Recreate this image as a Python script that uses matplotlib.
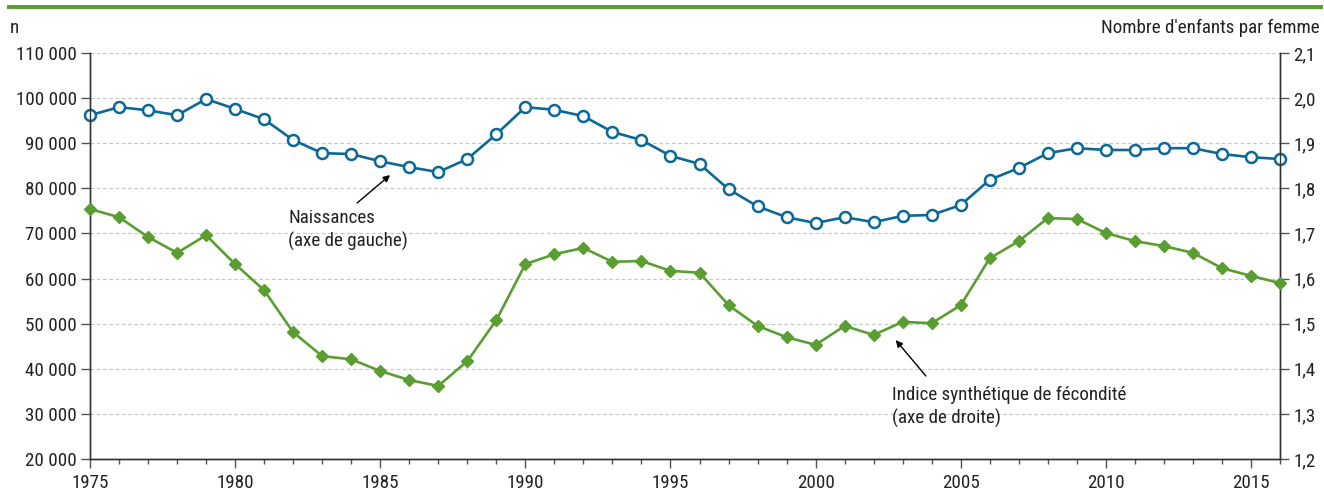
import numpy as np
import matplotlib.pyplot as plt
from matplotlib.ticker import FuncFormatter, MultipleLocator

plt.rcParams['font.family'] = ['Roboto Condensed', 'DejaVu Sans']

annees = list(range(1975, 2017))

# Naissances (axe de gauche)
naissances = [96200, 98000, 97300, 96200, 99800, 97600, 95300, 90700, 87800, 87600,
              86000, 84700, 83600, 86500, 92000, 98000, 97400, 96000, 92500, 90700,
              87200, 85400, 79800, 76000, 73600, 72300, 73600, 72500, 73900, 74100,
              76300, 81900, 84500, 87800, 88900, 88500, 88500, 88900, 88900, 87600,
              86900, 86500]

# Indice synthétique de fécondité (axe de droite)
isf = [1.754, 1.736, 1.692, 1.657, 1.696, 1.632, 1.574, 1.481, 1.428, 1.421,
       1.395, 1.375, 1.362, 1.417, 1.508, 1.632, 1.654, 1.668, 1.637, 1.639,
       1.617, 1.613, 1.541, 1.495, 1.470, 1.453, 1.495, 1.475, 1.504, 1.501,
       1.541, 1.645, 1.683, 1.734, 1.732, 1.701, 1.683, 1.672, 1.657, 1.623,
       1.606, 1.590]

bleu = '#0c6896'
vert = '#5a9e32'
texte = '#222222'
fs = 13.7

fig = plt.figure(figsize=(13.24, 4.98), dpi=100)
ax = fig.add_axes([90 / 1324, 1 - 459 / 498, 1190 / 1324, 406 / 498])
ax2 = ax.twinx()

# ligne verte en haut
fig.add_artist(plt.Line2D([9 / 1324, 1321 / 1324], [1 - 7.5 / 498] * 2, color=vert,
                          lw=2.9, transform=fig.transFigure))

ax.set_xlim(1975, 2016)
ax.set_ylim(20000, 110000)
ax2.set_ylim(1.2, 2.1)

ax.yaxis.set_major_locator(MultipleLocator(10000))
ax2.yaxis.set_major_locator(MultipleLocator(0.1))
ax.xaxis.set_major_locator(MultipleLocator(5))
ax.xaxis.set_minor_locator(MultipleLocator(1))

ax.yaxis.set_major_formatter(FuncFormatter(lambda v, p: '{:,.0f}'.format(v).replace(',', ' ')))
ax2.yaxis.set_major_formatter(FuncFormatter(lambda v, p: '{:.1f}'.format(v).replace('.', ',')))

ax.grid(axis='y', color='#c8c8c8', ls=(0, (3, 2)), lw=0.9)
ax.set_axisbelow(True)

for a in (ax, ax2):
    a.spines['top'].set_visible(False)
    for s in ('left', 'right', 'bottom'):
        a.spines[s].set_color('#333333')
        a.spines[s].set_linewidth(1.0)
    a.tick_params(which='major', length=6.5, width=1, color='#555555',
                  labelsize=fs, labelcolor=texte, pad=3)
    a.tick_params(which='minor', length=3.6, width=1, color='#555555')
ax.tick_params(axis='x', pad=4)

ax.plot(annees, naissances, color=bleu, lw=1.9, marker='o', ms=7.9,
        mfc='white', mec=bleu, mew=1.8, clip_on=False, zorder=3)
ax2.plot(annees, isf, color=vert, lw=1.9, marker='D', ms=6.2,
         mfc=vert, mec=vert, mew=1.0, clip_on=False, zorder=3)

fig.text(10 / 1324, 1 - 28 / 498, 'n', fontsize=fs, color=texte, va='center', ha='left')
fig.text(1320 / 1324, 1 - 28 / 498, "Nombre d'enfants par femme", fontsize=fs,
         color=texte, va='center', ha='right')

# annotations
ax.annotate('', xy=(1985.34, 82950), xytext=(1984.2, 76740),
            arrowprops=dict(arrowstyle='-|>', color='black', lw=1.0,
                            mutation_scale=10, shrinkA=0, shrinkB=0))
ax.text(1981.83, 70750, 'Naissances\n(axe de gauche)', fontsize=fs, color=texte,
        ha='left', va='center', linespacing=1.3)

ax.annotate('', xy=(2002.76, 46360), xytext=(2003.8, 38400),
            arrowprops=dict(arrowstyle='-|>', color='black', lw=1.0,
                            mutation_scale=10, shrinkA=0, shrinkB=0))
ax.text(2002.62, 31500, 'Indice synthétique de fécondité\n(axe de droite)', fontsize=fs,
        color=texte, ha='left', va='center', linespacing=1.3)

fig.savefig('out.png', dpi=100)
